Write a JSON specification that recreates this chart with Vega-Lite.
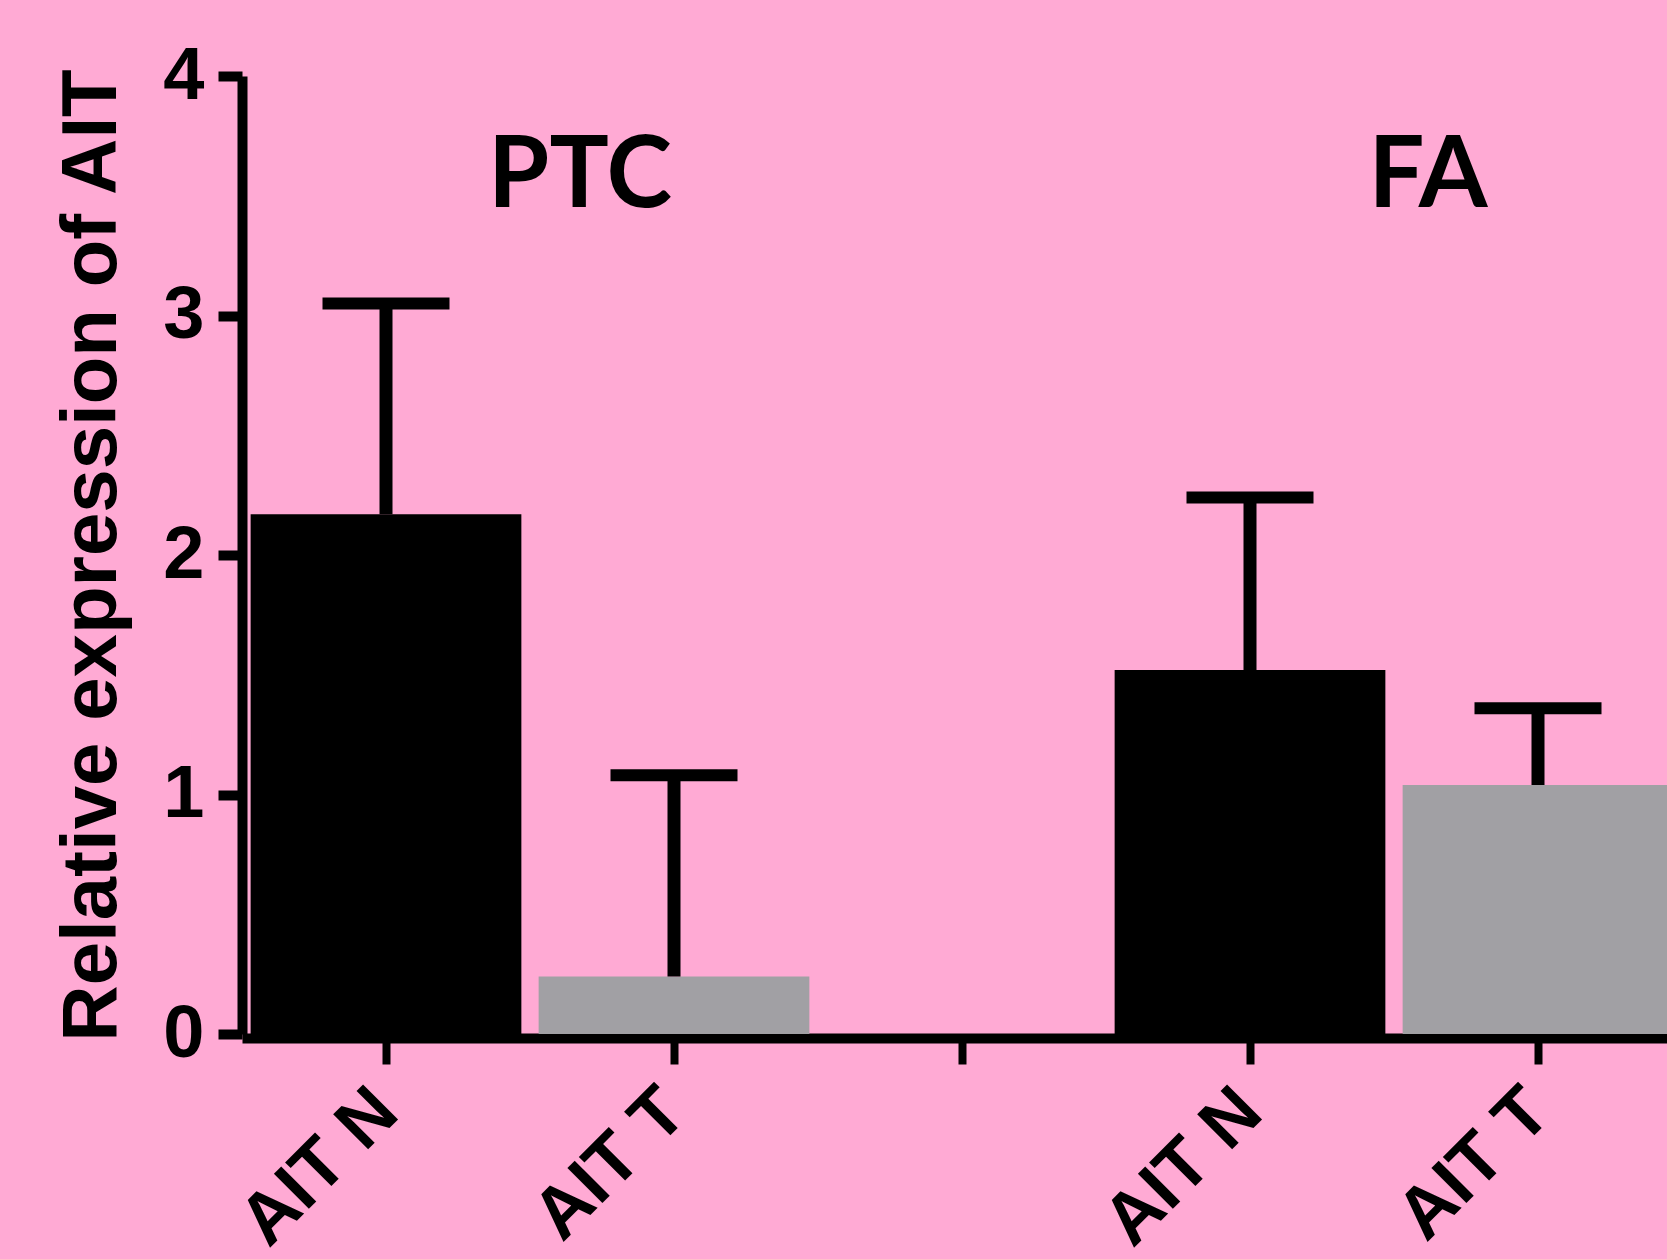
{
  "$schema": "https://vega.github.io/schema/vega-lite/v6.json",
  "width": 1425,
  "height": 958,
  "autosize": {"type": "none"},
  "padding": {"left": 242, "top": 76, "right": 0, "bottom": 225},
  "background": "#FFAAD4",
  "config": {"view": {"stroke": null}, "font": "Liberation Sans"},
  "datasets": {
    "bars": [
      {"slot": "PTC|AIT N", "kind": "AIT N", "mean": 2.17, "upper": 3.05},
      {"slot": "PTC|AIT T", "kind": "AIT T", "mean": 0.24, "upper": 1.08},
      {"slot": "FA|AIT N", "kind": "AIT N", "mean": 1.52, "upper": 2.24},
      {"slot": "FA|AIT T", "kind": "AIT T", "mean": 1.04, "upper": 1.36}
    ],
    "titles": [
      {"slot": "PTC|AIT N", "name": "PTC", "y": 3.58},
      {"slot": "FA|AIT N", "name": "FA", "y": 3.58}
    ]
  },
  "layer": [
    {
      "data": {"name": "bars"},
      "mark": {"type": "bar", "clip": true, "width": {"band": 0.94}},
      "encoding": {
        "x": {
          "field": "slot", "type": "nominal",
          "scale": {"domain": ["PTC|AIT N", "PTC|AIT T", "gap|", "FA|AIT N", "FA|AIT T"], "range": [0, 1440], "paddingInner": 0, "paddingOuter": 0},
          "axis": {
            "title": null,
            "labelExpr": "split(datum.value, '|')[1]",
            "labelAngle": -45, "labelAlign": "right", "labelBaseline": "middle",
            "labelFontSize": 72, "labelFontWeight": "bold", "labelColor": "black",
            "labelPadding": 36, "labelOverlap": false, "labelBound": false, "labelLimit": 0,
            "domainColor": "black", "domainWidth": 10,
            "tickColor": "black", "tickWidth": 8, "tickSize": 26, "offset": 4
          }
        },
        "y": {
          "field": "mean", "type": "quantitative",
          "scale": {"domain": [0, 4], "nice": false},
          "axis": {
            "title": "Relative expression of AIT",
            "values": [0, 1, 2, 3, 4], "format": "d", "grid": false,
            "labelFontSize": 74, "labelFontWeight": "bold", "labelColor": "black",
            "labelPadding": 14, "labelFlush": false,
            "tickSize": 24, "tickWidth": 10, "tickColor": "black",
            "domainColor": "black", "domainWidth": 10,
            "titleFontSize": 78, "titleFontWeight": "bold", "titleColor": "black", "titlePadding": 31
          }
        },
        "color": {
          "field": "kind", "type": "nominal",
          "scale": {"domain": ["AIT N", "AIT T"], "range": ["#000000", "#A1A0A4"]},
          "legend": null
        }
      }
    },
    {
      "data": {"name": "bars"},
      "mark": {"type": "rule", "strokeWidth": 13, "color": "black", "opacity": 1, "clip": true},
      "encoding": {
        "x": {"field": "slot", "type": "nominal"},
        "y": {"field": "mean", "type": "quantitative"},
        "y2": {"field": "upper"}
      }
    },
    {
      "data": {"name": "bars"},
      "mark": {"type": "tick", "thickness": 12, "size": 127, "color": "black", "opacity": 1, "clip": true},
      "encoding": {
        "x": {"field": "slot", "type": "nominal"},
        "y": {"field": "upper", "type": "quantitative"}
      }
    },
    {
      "data": {"name": "titles"},
      "transform": [{"filter": "datum.name == 'PTC'"}],
      "mark": {"type": "text", "font": "Lato", "fontWeight": "bold", "fontSize": 99, "dx": 50, "baseline": "middle", "align": "center", "color": "black"},
      "encoding": {
        "x": {"field": "slot", "type": "nominal", "bandPosition": 1},
        "y": {"field": "y", "type": "quantitative"},
        "text": {"field": "name"}
      }
    },
    {
      "data": {"name": "titles"},
      "transform": [{"filter": "datum.name == 'FA'"}],
      "mark": {"type": "text", "font": "Lato", "fontWeight": "bold", "fontSize": 99, "dx": 34, "baseline": "middle", "align": "center", "color": "black"},
      "encoding": {
        "x": {"field": "slot", "type": "nominal", "bandPosition": 1},
        "y": {"field": "y", "type": "quantitative"},
        "text": {"field": "name"}
      }
    }
  ]
}
